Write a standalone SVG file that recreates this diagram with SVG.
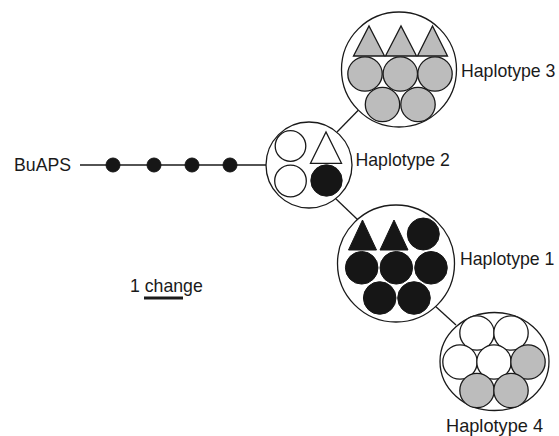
<svg xmlns="http://www.w3.org/2000/svg" width="559" height="436" viewBox="0 0 559 436">
<style>
text{font-family:"Liberation Sans",Arial,sans-serif;font-size:17.7px;fill:#1a1a1a}
.outer{fill:#fff;stroke:#1a1a1a;stroke-width:1.3}
.w{fill:#fff;stroke:#1a1a1a;stroke-width:1.3}
.g{fill:#bcbcbc;stroke:#1a1a1a;stroke-width:1.3}
.b{fill:#161616;stroke:#161616;stroke-width:1}
.ln{stroke:#1a1a1a;stroke-width:1.3;fill:none}
</style>
<rect width="559" height="436" fill="#fff"/>
<g id="connectors">
<line class="ln" x1="80" y1="165" x2="267" y2="165"/>
<line class="ln" x1="337" y1="132" x2="358.5" y2="110"/>
<line class="ln" x1="335" y1="198" x2="357.5" y2="219.5"/>
<line class="ln" x1="434" y1="305" x2="456" y2="325"/>
<circle class="b" cx="113" cy="165" r="7"/>
<circle class="b" cx="154" cy="165" r="7"/>
<circle class="b" cx="192" cy="165" r="7"/>
<circle class="b" cx="230" cy="165" r="7"/>
</g>
<g id="buaps"><text x="14" y="171">BuAPS</text></g>
<g id="haplotype3">
<circle class="outer" cx="399" cy="69.5" r="57.5"/>
<polygon class="g" points="353.5,56 369,26 384.5,56"/>
<polygon class="g" points="385.5,56 401,26 416.5,56"/>
<polygon class="g" points="417.5,56 432.5,26 447.5,56"/>
<circle class="g" cx="365" cy="74" r="17.2"/>
<circle class="g" cx="400.3" cy="74" r="17.2"/>
<circle class="g" cx="435" cy="74" r="17.2"/>
<circle class="g" cx="382.5" cy="104.5" r="17.2"/>
<circle class="g" cx="418" cy="104.5" r="17.2"/>
<text x="461" y="76.5">Haplotype 3</text>
</g>
<g id="haplotype2">
<circle class="outer" cx="309" cy="165" r="43"/>
<circle class="w" cx="290.5" cy="146" r="15.3"/>
<circle class="w" cx="290.5" cy="181" r="15.8"/>
<polygon class="w" points="310.5,163.3 326,132 341.5,163.3"/>
<circle class="b" cx="326.5" cy="180.5" r="15.7"/>
<text x="355.5" y="166">Haplotype 2</text>
</g>
<g id="haplotype1">
<circle class="outer" cx="396" cy="263.5" r="58.5"/>
<polygon class="b" points="348.5,250 362.5,220 376.5,250"/>
<polygon class="b" points="380,250 394,220 408,250"/>
<circle class="b" cx="423.3" cy="234" r="16"/>
<circle class="b" cx="361.7" cy="267.8" r="16.3"/>
<circle class="b" cx="396.3" cy="267.8" r="16.3"/>
<circle class="b" cx="431" cy="267.8" r="16.3"/>
<circle class="b" cx="379.7" cy="298" r="16.3"/>
<circle class="b" cx="414" cy="298" r="16.3"/>
<text x="460" y="265">Haplotype 1</text>
</g>
<g id="haplotype4">
<ellipse class="outer" cx="494.5" cy="361.5" rx="54.5" ry="49"/>
<circle class="w" cx="477" cy="333" r="17.2"/>
<circle class="w" cx="511" cy="333" r="17.2"/>
<circle class="w" cx="460" cy="362" r="17.2"/>
<circle class="w" cx="494" cy="362" r="17.2"/>
<circle class="g" cx="528" cy="362" r="17.2"/>
<circle class="g" cx="477" cy="390.5" r="17.2"/>
<circle class="g" cx="511" cy="390.5" r="17.2"/>
<text x="446" y="431.5" style="font-size:18.2px">Haplotype 4</text>
</g>
<g id="scale">
<text x="130" y="292">1 change</text>
<line x1="144" y1="298" x2="183" y2="298" stroke="#1a1a1a" stroke-width="2.8"/>
</g>
</svg>
